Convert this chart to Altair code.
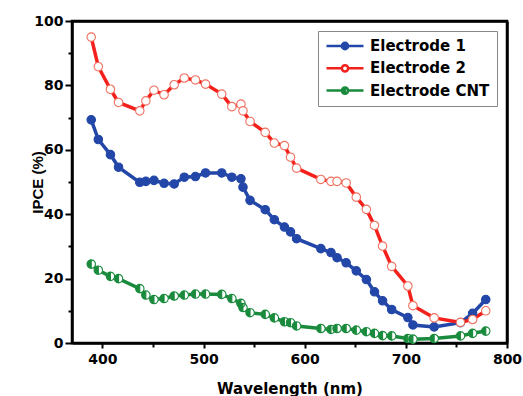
import altair as alt
import pandas as pd

# ---- data ----
wavelength = [389, 396, 408, 416, 437, 443, 451, 461, 471, 481, 492, 502, 518, 528,
              537, 539, 546, 561, 570, 580, 586, 592, 616, 626, 632, 641, 651, 661,
              669, 677, 686, 702, 707, 728, 754, 766, 779]
electrode1 = [69.3, 63.2, 58.5, 54.6, 49.9, 50.2, 50.5, 49.6, 49.4, 51.5, 51.7, 52.8, 52.8, 51.5,
              51.0, 48.4, 44.3, 41.4, 38.3, 36.0, 34.5, 32.4, 29.3, 28.1, 26.5, 24.9, 22.4, 19.7,
              15.9, 13.1, 10.4, 7.9, 5.6, 5.0, 6.3, 9.2, 13.5]
electrode2 = [95.0, 85.8, 78.8, 74.7, 72.1, 75.2, 78.5, 77.1, 80.2, 82.3, 81.7, 80.4, 77.3, 73.4,
              74.2, 72.1, 68.8, 65.4, 62.1, 61.3, 57.7, 54.3, 50.8, 50.2, 50.2, 49.7, 45.3, 41.5,
              36.5, 30.1, 23.8, 17.7, 11.6, 7.8, 6.4, 7.3, 10.0]
electrode_cnt = [24.5, 22.6, 20.7, 20.0, 16.9, 14.9, 13.5, 13.8, 14.6, 14.9, 15.2, 15.2, 15.1, 13.8,
                 12.3, 11.0, 9.4, 8.9, 7.8, 6.6, 6.3, 5.3, 4.5, 4.2, 4.5, 4.5, 4.0, 3.5,
                 3.0, 2.3, 2.2, 1.4, 1.2, 1.4, 2.2, 3.0, 3.7]
series_names = ["Electrode 1", "Electrode 2", "Electrode CNT"]
x_ticks = [400, 450, 500, 550, 600, 650, 700, 750, 800]
y_ticks = [0, 10, 20, 30, 40, 50, 60, 70, 80, 90, 100]

# ---- styles ----
line_colors = ["#2347A8", "#F4201B", "#1A8B3D"]
marker_fill = ["#2347A8", "#FFFFFF", "#1A8B3D"]
marker_stroke = ["#2347A8", "#F0705F", "#1A8B3D"]
HALF = "M0,-1 A1,1 0 0,0 0,1 Z M0,-1 A1,1 0 0,1 0,1 A1,1 0 0,0 0,-1"
marker_shapes = ["circle", "circle", HALF]
LEG = "M-1,0 L-0.17,0 M0.17,0 L1,0 M0.17,0 A0.17,0.17 0 1,1 -0.17,0 A0.17,0.17 0 1,1 0.17,0 Z"
LEG_HALF = ("M-1,0 L-0.17,0 M0.17,0 L1,0 M0,-0.17 A0.17,0.17 0 0,0 0,0.17 Z "
            "M0,-0.17 A0.17,0.17 0 0,1 0,0.17 A0.17,0.17 0 0,0 0,-0.17")
legend_shapes = [LEG, LEG, LEG_HALF]

rows = []
for name, vals in zip(series_names, [electrode1, electrode2, electrode_cnt]):
    for w, v in zip(wavelength, vals):
        rows.append({"wavelength": w, "ipce": v, "series": name})
df = pd.DataFrame(rows)

TICK_FONT = "DejaVu Sans"

x_axis = alt.Axis(
    orient="bottom",
    values=x_ticks,
    labelExpr="datum.value % 100 === 0 ? datum.label : ''",
    labelFlush=False,
    title="Wavelength (nm)",
    titleFont="DejaVu Sans", titleFontSize=15, titleFontWeight="bold", titleColor="black",
    titleX=217.5, titleY=50, titleAlign="center", titleBaseline="alphabetic",
    labelFont=TICK_FONT, labelFontSize=14, labelFontWeight="bold", labelColor="black",
    labelPadding=4,
    tickSize={"condition": {"test": "datum.value % 100 === 0", "value": 5}, "value": 4},
    grid=False,
)
y_axis = alt.Axis(
    orient="left",
    values=y_ticks,
    labelExpr="datum.value % 20 === 0 ? datum.label : ''",
    labelFlush=False,
    title="IPCE (%)",
    titleFont="Liberation Sans", titleFontSize=15, titleFontWeight="bold", titleColor="black",
    titleX=-35, titleY=161, titleAngle=270, titleAlign="center", titleBaseline="middle",
    labelFont=TICK_FONT, labelFontSize=14, labelFontWeight="bold", labelColor="black",
    labelPadding=2,
    tickSize={"condition": {"test": "datum.value % 20 === 0", "value": 7}, "value": 4},
    grid=False,
)

x_scale = alt.Scale(domain=[370, 800], nice=False, zero=False)
y_scale = alt.Scale(domain=[0, 100], nice=False)
x = alt.X("wavelength:Q", scale=x_scale, axis=x_axis)
y = alt.Y("ipce:Q", scale=y_scale, axis=y_axis)

base = alt.Chart(df)

lines = base.mark_line(strokeWidth=3.5).encode(
    x=x, y=y,
    color=alt.Color("series:N", scale=alt.Scale(domain=series_names, range=line_colors), legend=None),
)

under = base.mark_point(shape="circle", filled=True, color="white", size=72, opacity=1).encode(x=x, y=y)

points = base.mark_point(size=72, strokeWidth=1.1, opacity=1).encode(
    x=x, y=y,
    shape=alt.Shape("series:N", scale=alt.Scale(domain=series_names, range=marker_shapes), legend=None),
    fill=alt.Fill("series:N", scale=alt.Scale(domain=series_names, range=marker_fill), legend=None),
    stroke=alt.Stroke("series:N", scale=alt.Scale(domain=series_names, range=marker_stroke), legend=None),
)

legend = alt.Legend(
    title=None, orient="top-right", offset=10,
    symbolSize=1369, symbolStrokeWidth=2.5, symbolOpacity=1,
    labelFont="DejaVu Sans", labelFontSize=15, labelFontWeight="bold", labelColor="black",
    labelOffset=5, rowPadding=6.3, padding=7, clipHeight=16,
    strokeColor="#888888", fillColor="white",
)

# a layer with no marks of its own, only carrying the legend symbols
legend_layer = base.transform_filter("datum.ipce < 0").mark_point(
    size=72, strokeWidth=2.5, opacity=1
).encode(
    x=x, y=y,
    shape=alt.Shape("series:N", scale=alt.Scale(domain=series_names, range=legend_shapes), legend=legend),
    fill=alt.Fill("series:N", scale=alt.Scale(domain=series_names, range=marker_fill), legend=legend),
    stroke=alt.Stroke("series:N", scale=alt.Scale(domain=series_names, range=line_colors), legend=legend),
)

main = alt.layer(lines, under, points, legend_layer).resolve_scale(
    shape="independent", fill="independent", stroke="independent"
)

# top and right sides of the plot box, drawn as bare axis lines
frame_axis_x = alt.Axis(orient="top", labels=False, ticks=False, title=None, grid=False,
                        domainColor="black", domainWidth=2.5)
frame_axis_y = alt.Axis(orient="right", labels=False, ticks=False, title=None, grid=False,
                        domainColor="black", domainWidth=2.5)
frame = base.transform_filter("datum.ipce < 0").mark_point(opacity=0).encode(
    x=alt.X("wavelength:Q", scale=x_scale, axis=frame_axis_x),
    y=alt.Y("ipce:Q", scale=y_scale, axis=frame_axis_y),
)

chart = alt.layer(main, frame).resolve_axis(
    x="independent", y="independent"
).properties(
    width=435, height=322,
    autosize=alt.AutoSizeParams(type="none"),
    padding={"left": 72, "top": 21, "right": 16, "bottom": 53},
    background="white",
).configure_view(
    stroke="black", strokeWidth=2.5
).configure_axis(
    domainColor="black", domainWidth=2.5, tickColor="black", tickWidth=2,
)

chart.save("out.html", embed_options={"renderer": "svg", "actions": False})
